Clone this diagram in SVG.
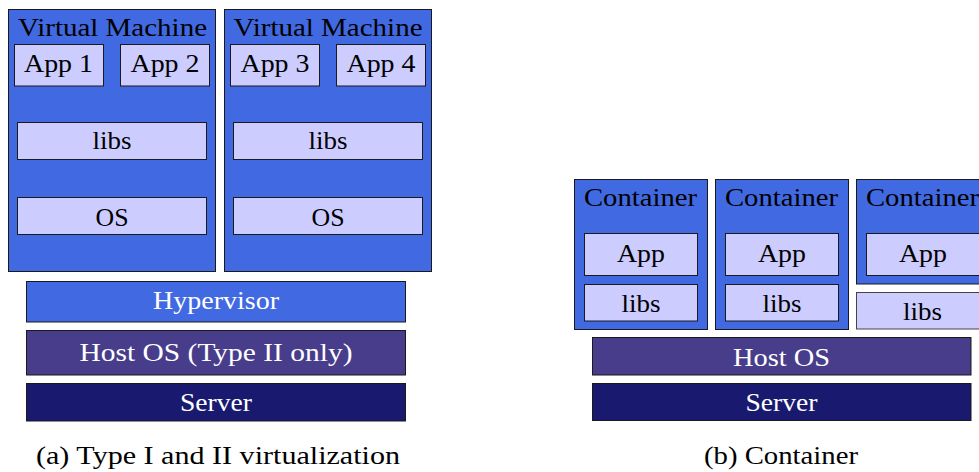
<svg xmlns="http://www.w3.org/2000/svg" width="979" height="472" viewBox="0 0 979 472">
<style>
text{font-size:25px;text-anchor:middle;fill:#000}
.w{fill:#fff}
.vm{fill:#4169E1;stroke:#1a1a1a;stroke-width:1}
.lt{fill:#CCCCFF;stroke:#1a1a1a;stroke-width:1}
.hos{fill:#483D8B;stroke:#1a1a1a;stroke-width:1}
.srv{fill:#191970;stroke:#1a1a1a;stroke-width:1}
</style>
<rect width="979" height="472" fill="#fff"/>
<g font-family="Liberation Serif, DejaVu Serif, Times New Roman, serif">
<g id="vm1">
<rect class="vm" x="8.5" y="9.5" width="207" height="262"/>
<text x="112.5" y="36" textLength="189" lengthAdjust="spacingAndGlyphs">Virtual Machine</text>
</g>
<g id="app1"><rect class="lt" x="14.5" y="44.5" width="89" height="41.5"/><text x="58.5" y="72" textLength="69" lengthAdjust="spacingAndGlyphs">App 1</text></g>
<g id="app2"><rect class="lt" x="120.5" y="44.5" width="89" height="41.5"/><text x="165" y="72" textLength="69" lengthAdjust="spacingAndGlyphs">App 2</text></g>
<g id="libs1"><rect class="lt" x="17.5" y="122.5" width="189" height="37"/><text x="112" y="149" textLength="39" lengthAdjust="spacingAndGlyphs">libs</text></g>
<g id="os1"><rect class="lt" x="17.5" y="197.5" width="189" height="37"/><text x="112" y="226" textLength="33" lengthAdjust="spacingAndGlyphs">OS</text></g>
<g id="vm2">
<rect class="vm" x="224.5" y="9.5" width="207" height="262"/>
<text x="328" y="36" textLength="189" lengthAdjust="spacingAndGlyphs">Virtual Machine</text>
</g>
<g id="app3"><rect class="lt" x="230.5" y="44.5" width="89" height="41.5"/><text x="275" y="72" textLength="69" lengthAdjust="spacingAndGlyphs">App 3</text></g>
<g id="app4"><rect class="lt" x="336.5" y="44.5" width="89" height="41.5"/><text x="381" y="72" textLength="69" lengthAdjust="spacingAndGlyphs">App 4</text></g>
<g id="libs2"><rect class="lt" x="233.5" y="122.5" width="189" height="37"/><text x="328" y="149" textLength="39" lengthAdjust="spacingAndGlyphs">libs</text></g>
<g id="os2"><rect class="lt" x="233.5" y="197.5" width="189" height="37"/><text x="328" y="226" textLength="33" lengthAdjust="spacingAndGlyphs">OS</text></g>
<g id="hypervisor"><rect class="vm" x="26.5" y="281.5" width="379" height="40.5"/><text class="w" x="216" y="308.5" textLength="126" lengthAdjust="spacingAndGlyphs">Hypervisor</text></g>
<g id="hostos-a"><rect class="hos" x="26.5" y="330.5" width="379" height="44.5"/><text class="w" x="216" y="360.5" textLength="273" lengthAdjust="spacingAndGlyphs">Host OS (Type II only)</text></g>
<g id="server-a"><rect class="srv" x="26.5" y="383.5" width="379" height="37.5"/><text class="w" x="216" y="411" textLength="72" lengthAdjust="spacingAndGlyphs">Server</text></g>
<g id="caption-a"><text x="218" y="464" textLength="364" lengthAdjust="spacingAndGlyphs">(a) Type I and II virtualization</text></g>

<g id="container1">
<rect class="vm" x="574.5" y="179.5" width="133" height="150"/>
<text x="640.5" y="206" textLength="113" lengthAdjust="spacingAndGlyphs">Container</text>
</g>
<g id="app-c1"><rect class="lt" x="584.5" y="233.5" width="113" height="42"/><text x="641" y="262" textLength="48" lengthAdjust="spacingAndGlyphs">App</text></g>
<g id="libs-c1"><rect class="lt" x="584.5" y="284.5" width="113" height="36.5"/><text x="641" y="311.5" textLength="39" lengthAdjust="spacingAndGlyphs">libs</text></g>
<g id="container2">
<rect class="vm" x="715.5" y="179.5" width="133" height="150"/>
<text x="781.5" y="206" textLength="113" lengthAdjust="spacingAndGlyphs">Container</text>
</g>
<g id="app-c2"><rect class="lt" x="725.5" y="233.5" width="113" height="42"/><text x="782" y="262" textLength="48" lengthAdjust="spacingAndGlyphs">App</text></g>
<g id="libs-c2"><rect class="lt" x="725.5" y="284.5" width="113" height="36.5"/><text x="782" y="311.5" textLength="39" lengthAdjust="spacingAndGlyphs">libs</text></g>
<g id="container3">
<rect class="vm" x="856.5" y="179.5" width="133" height="104.5"/>
<text x="922.5" y="206" textLength="113" lengthAdjust="spacingAndGlyphs">Container</text>
</g>
<g id="app-c3"><rect class="lt" x="866.5" y="233.5" width="113" height="42"/><text x="923" y="262" textLength="48" lengthAdjust="spacingAndGlyphs">App</text></g>
<g id="libs-c3"><rect class="lt" x="856.5" y="292.5" width="133" height="36.5" style="stroke:#444"/><text x="922.5" y="319.5" textLength="39" lengthAdjust="spacingAndGlyphs">libs</text></g>
<g id="hostos-b"><rect class="hos" x="592.5" y="337.5" width="378.5" height="37.5"/><text class="w" x="781.5" y="366" textLength="97" lengthAdjust="spacingAndGlyphs">Host OS</text></g>
<g id="server-b"><rect class="srv" x="592.5" y="383.5" width="378.5" height="37"/><text class="w" x="781.5" y="410.7" textLength="72" lengthAdjust="spacingAndGlyphs">Server</text></g>
<g id="caption-b"><text x="781" y="464" textLength="154" lengthAdjust="spacingAndGlyphs">(b) Container</text></g>
</g>
<g id="connectors"/>
</svg>
